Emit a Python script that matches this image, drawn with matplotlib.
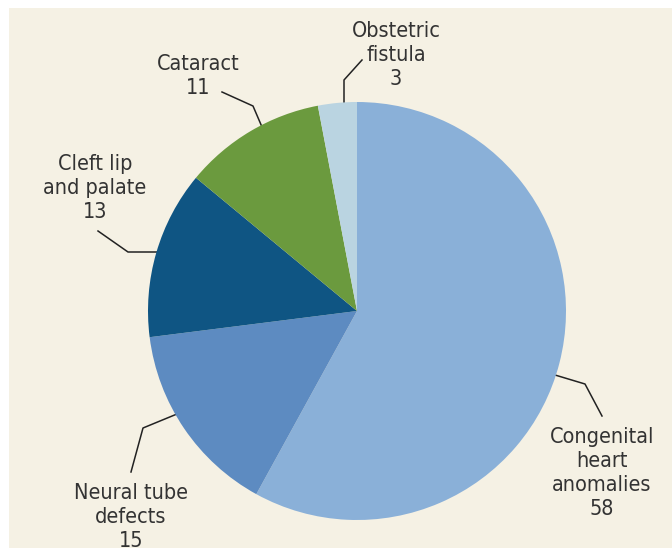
import numpy as np
import matplotlib.pyplot as plt
from matplotlib.patches import Rectangle
from matplotlib import font_manager

labels = ['Congenital\nheart\nanomalies', 'Neural tube\ndefects', 'Cleft lip\nand palate',
          'Cataract', 'Obstetric\nfistula']
values = [58, 15, 13, 11, 3]
colors = ['#8AB0D8', '#5D8BC1', '#0F5583', '#6B9A3E', '#BAD4E1']

names = sorted({f.name + ' | ' + f.stretch.__str__() + ' | ' + f.fname.split('/')[-1]
                for f in font_manager.fontManager.ttflist})
print('\n'.join(n for n in names if 'ond' in n or 'arrow' in n))

plt.rcParams['font.family'] = ['DejaVu Sans']
plt.rcParams['font.stretch'] = 'condensed'

W, H = 672, 550
fig = plt.figure(figsize=(W / 100, H / 100), dpi=100)
fig.patch.set_facecolor('white')
ax = fig.add_axes([0, 0, 1, 1])
ax.set_xlim(0, W)
ax.set_ylim(H, 0)
ax.axis('off')

ax.add_patch(Rectangle((9, 8), W - 9, H - 10, facecolor='#F5F1E4', edgecolor='none', zorder=0))

# pie drawn in its own axes placed over the centre
cx, cy, r = 357, 311, 209
pax = fig.add_axes([(cx - r) / W, (H - cy - r) / H, 2 * r / W, 2 * r / H])
pax.pie(values, colors=colors, startangle=90, counterclock=False,
        wedgeprops=dict(linewidth=0))
pax.set_xlim(-1, 1)
pax.set_ylim(-1, 1)
pax.set_aspect('equal')
pax.axis('off')

# leader lines and label positions (pixel coords, y down)
leaders = [
    [(555, 375), (585, 384), (602, 416)],
    [(177, 414), (143, 428), (131, 472)],
    [(157, 252), (128, 252), (98, 231)],
    [(262, 127), (253, 106), (222, 92)],
    [(344, 104), (344, 80), (362, 60)],
]
text_pos = [(602, 473), (131, 517), (95, 188), (198, 76), (396, 55)]

for lab, v, pts, (tx, ty) in zip(labels, values, leaders, text_pos):
    xs, ys = zip(*pts)
    ax.plot(xs, ys, color='#222222', lw=1.1, zorder=3)
    ax.text(tx, ty, f'{lab}\n{v}', ha='center', va='center', fontsize=15.5,
            color='#333333', linespacing=1.25, zorder=3)

fig.savefig('out.png', dpi=100)
